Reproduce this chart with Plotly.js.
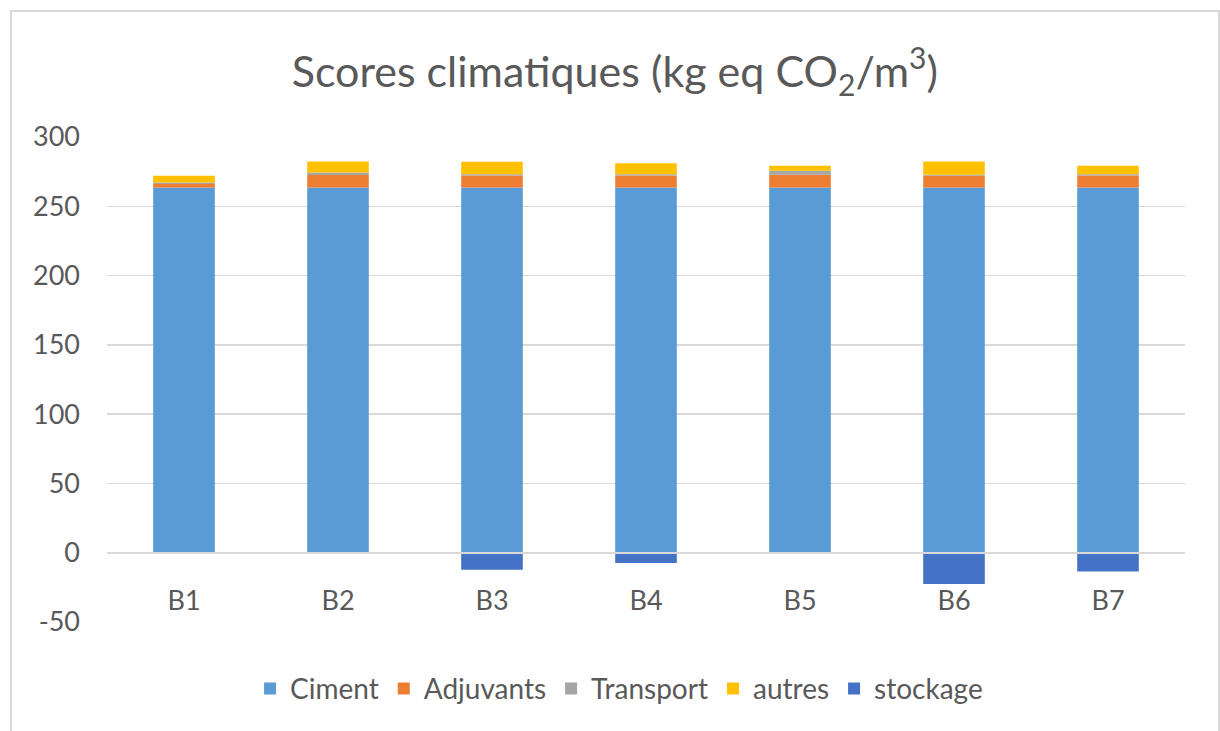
<!DOCTYPE html>
<html>
<head>
<meta charset="utf-8">
<script src="https://cdn.plot.ly/plotly-3.0.1.min.js"></script>
<style>
  html, body { margin: 0; padding: 0; background: #ffffff; }
  #wrap { position: relative; width: 1220px; height: 731px; overflow: hidden; }
  #chart { position: absolute; left: 0; top: 0; width: 1220px; height: 731px; }
  #frame {
    position: absolute; left: 10px; top: 10px; width: 1206px; height: 740px;
    border: 2px solid #d9d9d9; pointer-events: none;
  }
</style>
</head>
<body>
<div id="wrap">
  <div id="chart"></div>
  <div id="frame"></div>
</div>
<script>
// Climate scores per concrete mix, kg eq CO2 per m3
const categories = ['B1', 'B2', 'B3', 'B4', 'B5', 'B6', 'B7'];
const ciment     = [263.6, 263.6, 263.6, 263.6, 263.6, 263.6, 263.6];
const adjuvants  = [2.5, 8.9, 8.6, 8.6, 9.1, 8.4, 8.6];
const transport  = [1.1, 1.9, 1.0, 1.0, 2.9, 0.8, 1.0];
const autres     = [4.8, 7.9, 9.0, 7.9, 3.6, 9.6, 6.0];
const stockage   = [0, 0, -12.3, -7.4, 0, -22.6, -13.5];

const yTickVals = [-50, 0, 50, 100, 150, 200, 250, 300];
const yTickText = ['-50', '0', '50', '100', '150', '200', '250', '300'];

const seriesNames  = ['Ciment', 'Adjuvants', 'Transport', 'autres', 'stockage'];
const seriesValues = [ciment, adjuvants, transport, autres, stockage];
const seriesColors = ['#5b9bd5', '#ed7d31', '#a5a5a5', '#ffc000', '#4472c4'];

const FONT = 'Lato, "Open Sans", sans-serif';
const TEXT = '#595959';

const traces = seriesNames.map((name, i) => ({
  type: 'bar',
  name: name,
  x: categories,
  y: seriesValues[i],
  marker: { color: seriesColors[i], line: { width: 0 } },
  hoverinfo: 'x+y+name'
}));

const layout = {
  width: 1220,
  height: 731,
  paper_bgcolor: '#ffffff',
  plot_bgcolor: '#ffffff',
  margin: { l: 107, r: 35, t: 137, b: 109 },
  font: { family: FONT, color: TEXT, size: 27 },
  title: {
    text: 'Scores climatiques (kg eq CO<sub>2</sub>/m<sup>3</sup>)',
    font: { family: FONT, size: 43, color: TEXT },
    x: 0.504, xref: 'container', xanchor: 'center',
    y: 0.902, yref: 'container', yanchor: 'middle'
  },
  barmode: 'relative',
  bargap: 0.6,
  showlegend: true,
  legend: {
    orientation: 'h',
    x: 0.475, xanchor: 'center',
    y: -0.1375, yanchor: 'middle',
    font: { family: FONT, size: 28, color: TEXT },
    traceorder: 'normal',
    itemwidth: 30
  },
  xaxis: {
    type: 'category',
    anchor: 'free',
    position: 50 / 350,
    showgrid: false,
    zeroline: false,
    showline: true,
    linecolor: '#d9d9d9',
    linewidth: 2,
    ticks: '',
    ticklabelstandoff: 24,
    layer: 'above traces',
    tickfont: { family: FONT, size: 27, color: TEXT }
  },
  yaxis: {
    range: [-50, 300],
    tickmode: 'array',
    tickvals: yTickVals,
    ticktext: yTickText,
    showgrid: true,
    gridcolor: '#d9d9d9',
    gridwidth: 1.5,
    zeroline: false,
    showline: false,
    ticks: '',
    ticklabelstandoff: 26,
    tickfont: { family: FONT, size: 27, color: TEXT }
  }
};

Plotly.newPlot('chart', traces, layout, { displayModeBar: false, staticPlot: true });
</script>
</body>
</html>
